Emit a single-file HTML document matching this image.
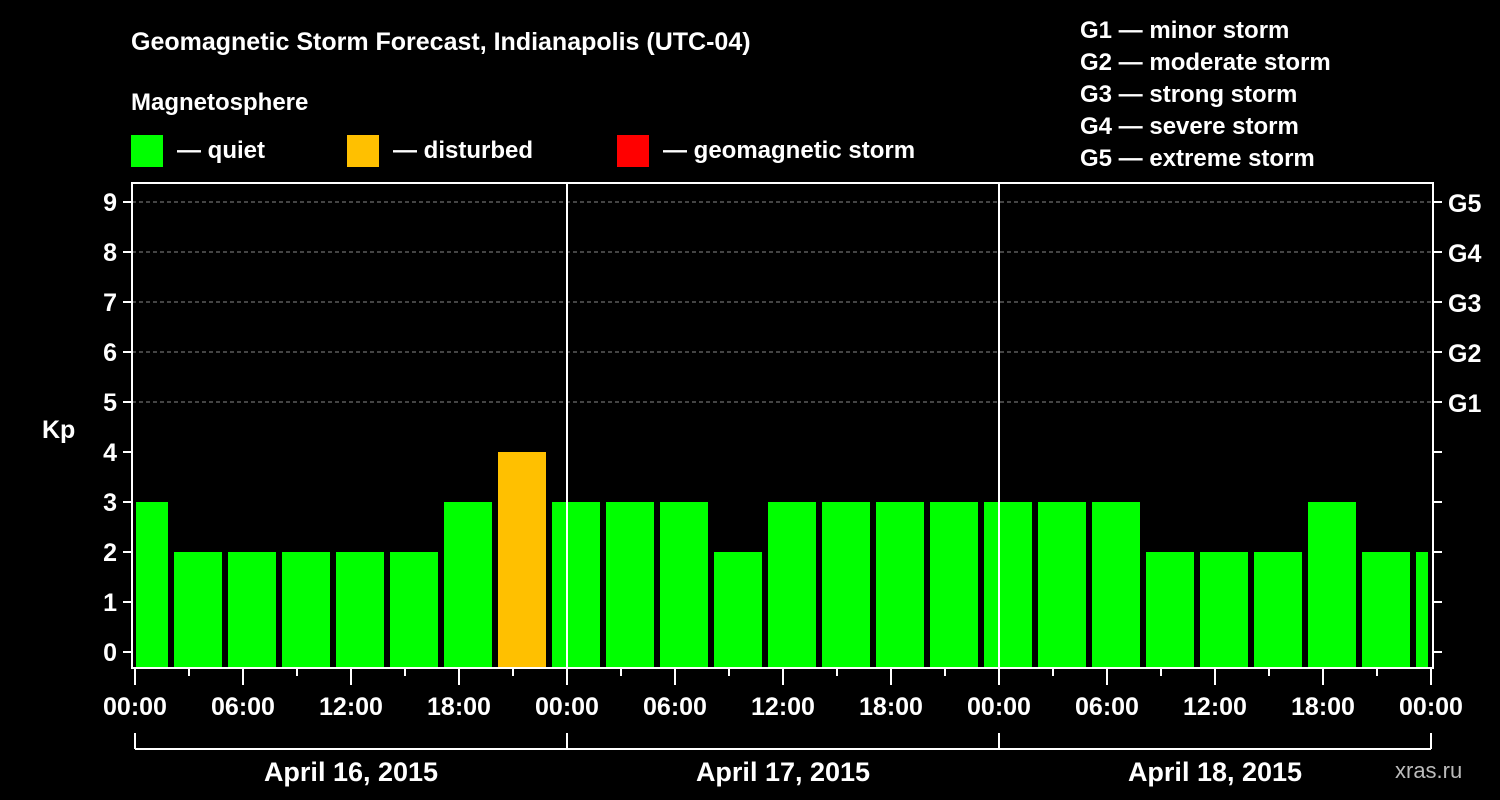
<!DOCTYPE html>
<html><head><meta charset="utf-8"><style>
html,body{margin:0;padding:0;background:#000;width:1500px;height:800px;overflow:hidden}
svg text{font-family:"Liberation Sans",sans-serif;font-weight:bold;fill:#fff}
</style></head><body>
<svg id="chart" width="1500" height="800" xmlns="http://www.w3.org/2000/svg">
<text x="131" y="50" font-size="25">Geomagnetic Storm Forecast, Indianapolis (UTC-04)</text>
<text x="131" y="110" font-size="24">Magnetosphere</text>
<g><rect x="131" y="135" width="32" height="32" fill="#00ff00"/><text x="177" y="158" font-size="24">— quiet</text></g>
<g><rect x="347" y="135" width="32" height="32" fill="#ffc000"/><text x="393" y="158" font-size="24">— disturbed</text></g>
<g><rect x="617" y="135" width="32" height="32" fill="#ff0000"/><text x="663" y="158" font-size="24">— geomagnetic storm</text></g>
<g font-size="24">
<text x="1080" y="38">G1 — minor storm</text>
<text x="1080" y="70">G2 — moderate storm</text>
<text x="1080" y="102">G3 — strong storm</text>
<text x="1080" y="134">G4 — severe storm</text>
<text x="1080" y="166">G5 — extreme storm</text>
</g>
<text x="42" y="438" font-size="25">Kp</text>
<text x="1395" y="778" font-size="22" fill="#bbb" style="fill:#bbb;font-weight:normal">xras.ru</text>
<g id="grid"></g><g id="bars"></g><g id="axes"></g>
</svg>
<script>
const kpValues=[3,2,2,2,2,2,3,4,3,3,3,2,3,3,3,3,3,3,3,2,2,2,3,2,2];
const binStartHours=[-1,2,5,8,11,14,17,20,23,26,29,32,35,38,41,44,47,50,53,56,59,62,65,68,71];
const xTickLabels=["00:00","06:00","12:00","18:00","00:00","06:00","12:00","18:00","00:00","06:00","12:00","18:00","00:00"];
const dayLabels=["April 16, 2015","April 17, 2015","April 18, 2015"];
const yTicks=[0,1,2,3,4,5,6,7,8,9];
const gLabels=[[5,"G1"],[6,"G2"],[7,"G3"],[8,"G4"],[9,"G5"]];
const NS="http://www.w3.org/2000/svg";
const X0=135,HOURPX=18,TOTAL=72;
const x=h=>X0+h*HOURPX;
const y=v=>652-v*50;
const L=132,R=1433,T=183,B=668;
function mk(tag,attrs,parent,txt){const e=document.createElementNS(NS,tag);for(const k in attrs)e.setAttribute(k,attrs[k]);if(txt!==undefined)e.textContent=txt;parent.appendChild(e);return e;}
const grid=document.getElementById('grid'),bars=document.getElementById('bars'),axes=document.getElementById('axes');
yTicks.forEach(v=>{if(v>=5){const l=mk('line',{x1:L,x2:R,y1:y(v),y2:y(v),stroke:'#888','stroke-dasharray':'4,3','stroke-width':1},grid);

}});
kpValues.forEach((v,i)=>{let a=Math.max(binStartHours[i],0),b=Math.min(binStartHours[i]+3,TOTAL);
let x1=x(binStartHours[i])+3,x2=x(binStartHours[i]+3)-3;x1=Math.max(x1,x(0)+1);x2=Math.min(x2,x(TOTAL)-3);
const col=v>=5?'#ff0000':(v>=4?'#ffc000':'#00ff00');
const r=mk('rect',{x:x1,y:y(v),width:x2-x1,height:B-y(v),fill:col},bars);

});
[1,2].forEach(d=>{const l=mk('line',{x1:x(d*24),x2:x(d*24),y1:T,y2:B,stroke:'#fff','stroke-width':2},axes);

});
const frame=mk('rect',{x:L,y:T,width:R-L,height:B-T,fill:'none',stroke:'#fff','stroke-width':2},axes);


yTicks.forEach(v=>{mk('line',{x1:L-9,x2:L,y1:y(v),y2:y(v),stroke:'#fff','stroke-width':2},axes);
mk('line',{x1:R,x2:R+9,y1:y(v),y2:y(v),stroke:'#fff','stroke-width':2},axes);
const t=mk('text',{x:L-15,y:y(v)+9,'font-size':25,'text-anchor':'end'},axes,String(v));

});
gLabels.forEach(([v,s])=>{const t=mk('text',{x:1448,y:y(v)+10,'font-size':25},axes,s);

});
for(let h=0;h<=TOTAL;h+=3){const major=h%6===0;mk('line',{x1:x(h),x2:x(h),y1:B,y2:B+(major?17:8),stroke:'#fff','stroke-width':2},axes);}
xTickLabels.forEach((s,i)=>{const t=mk('text',{x:x(i*6),y:715,'font-size':25,'text-anchor':'middle'},axes,s);

});
mk('line',{x1:x(0),x2:x(TOTAL),y1:749,y2:749,stroke:'#fff','stroke-width':2},axes);
for(let d=0;d<=3;d++)mk('line',{x1:x(d*24),x2:x(d*24),y1:733,y2:749,stroke:'#fff','stroke-width':2},axes);
dayLabels.forEach((s,i)=>{const t=mk('text',{x:x(i*24+12),y:781,'font-size':27,'text-anchor':'middle'},axes,s);

});
</script>
</body></html>
